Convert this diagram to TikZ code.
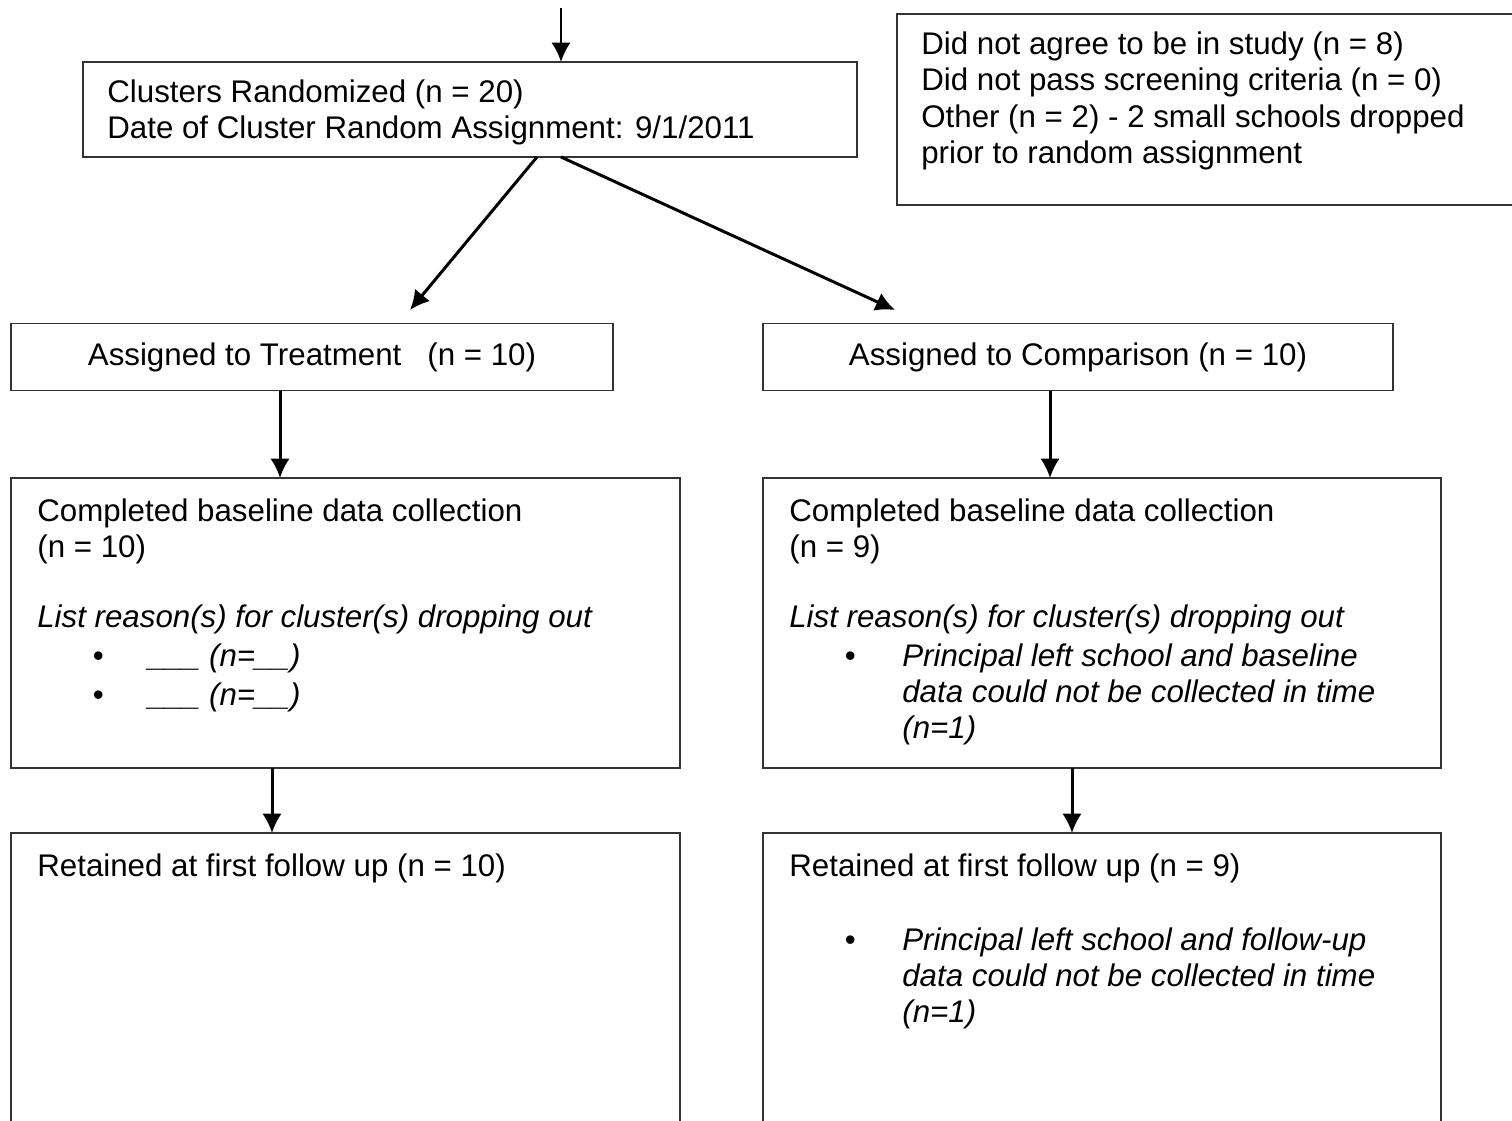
\documentclass[tikz,border=0pt]{standalone}
\usepackage{fontspec}
\setmainfont{Liberation Sans}
\usetikzlibrary{arrows.meta}
\newcommand{\boxfont}{\fontsize{17.8}{20.6}\selectfont}
\tikzset{
  box/.style={draw=black!80, line width=0.85pt, inner sep=0pt, outer sep=0pt},
  txt/.style={anchor=north west, inner sep=0pt, align=left, font=\boxfont, execute at begin node=\strut},
  itxt/.style={txt, font=\boxfont\itshape},
  arr/.style={line width=1.7pt, -{Latex[length=11pt,width=11pt]}},
}
\begin{document}
\begin{tikzpicture}[x=0.02cm, y=-0.02cm]
  \useasboundingbox (0,0) rectangle (1512,1120);
  \clip (0,0) rectangle (1512,1120);

  % boxes
  \node[box, minimum width=15.48cm, minimum height=1.9cm] (clus) at (470,109.5) {};
  \node[box, minimum width=13.26cm, minimum height=3.82cm] (excl) at (1228.5,109.5) {};
  \node[box, minimum width=12.04cm, minimum height=1.34cm, font=\boxfont] (treat) at (312,357) {Assigned to Treatment\ \ \ (n = 10)};
  \node[box, minimum width=12.6cm, minimum height=1.34cm, font=\boxfont] (comp) at (1078,357) {Assigned to Comparison (n = 10)};
  \node[box, minimum width=13.38cm, minimum height=5.8cm] (baseT) at (345.5,623) {};
  \node[box, minimum width=13.56cm, minimum height=5.8cm] (baseC) at (1102,623) {};
  \node[box, minimum width=13.38cm, minimum height=6.54cm] (retT) at (345.5,996.5) {};
  \node[box, minimum width=13.56cm, minimum height=6.54cm] (retC) at (1102,996.5) {};

  % texts
  \node[txt] (clusTxt) at (107,79.6) {Clusters Randomized (n = 20)\\Date of Cluster Random Assignment: 9/1/2011};
  \node[txt] (exclTxt) at (921,31.6) {Did not agree to be in study (n = 8)\\Did not pass screening criteria (n = 0)\\Other (n = 2) - 2 small schools dropped\\prior to random assignment};

  \node[txt] (baseTTxt) at (37,498.6) {Completed baseline data collection\\(n = 10)};
  \node[itxt] (listT) at (37,601.6) {List reason(s) for cluster(s) dropping out};
  \node[itxt] (reasonT) at (92.5,640.6) {\begin{tabular}[t]{@{}p{1.11cm}@{}l@{}}
    \upshape • & \_\_\_ (n=\_\_)\\[1.5pt]
    \upshape • & \_\_\_ (n=\_\_)
  \end{tabular}};

  \node[txt] (baseCTxt) at (789,498.6) {Completed baseline data collection\\(n = 9)};
  \node[itxt] (listC) at (789,601.6) {List reason(s) for cluster(s) dropping out};
  \node[itxt] (reasonC) at (844.5,640.6) {\begin{tabular}[t]{@{}p{1.15cm}@{}l@{}}
    \upshape • & Principal left school and baseline\\
     & data could not be collected in time\\
     & (n=1)
  \end{tabular}};

  \node[txt] (retTTxt) at (37,850.6) {Retained at first follow up (n = 10)};
  \node[txt] (retCTxt) at (789,850.6) {Retained at first follow up (n = 9)};
  \node[itxt] (reasonR) at (844.5,924.6) {\begin{tabular}[t]{@{}p{1.15cm}@{}l@{}}
    \upshape • & Principal left school and follow-up\\
     & data could not be collected in time\\
     & (n=1)
  \end{tabular}};

  % arrows
  \coordinate (entry) at (561,8);
  \coordinate (toT) at (410,310);
  \coordinate (toC) at (895,310);
  \draw[arr] (entry) -- (entry |- clus.north);
  \draw[arr] ([xshift=1.34cm]clus.south) -- (toT);
  \draw[arr] ([xshift=1.82cm]clus.south) -- (toC);
  \draw[arr] ([xshift=-0.64cm]treat.south) -- ([xshift=-0.64cm]treat.south |- baseT.north);
  \draw[arr] ([xshift=-0.56cm]comp.south) -- ([xshift=-0.56cm]comp.south |- baseC.north);
  \draw[arr] ([xshift=-1.47cm]baseT.south) -- ([xshift=-1.47cm]baseT.south |- retT.north);
  \draw[arr] ([xshift=-0.6cm]baseC.south) -- ([xshift=-0.6cm]baseC.south |- retC.north);
\end{tikzpicture}
\end{document}
